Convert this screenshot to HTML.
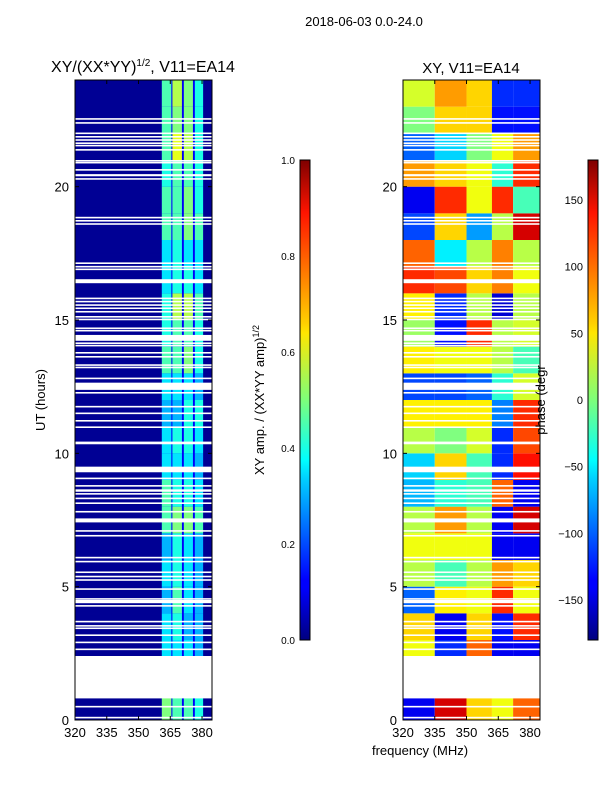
<!DOCTYPE html>
<html><head><meta charset="utf-8"><style>
body{margin:0;background:#fff;}
svg text{font-family:"Liberation Sans",sans-serif;fill:#000;}
</style></head><body>
<svg id="c" width="600" height="800" xmlns="http://www.w3.org/2000/svg">
<defs>
<linearGradient id="jet" x1="0" y1="1" x2="0" y2="0">
<stop offset="0" stop-color="#00007f"/><stop offset="0.11" stop-color="#0000ff"/><stop offset="0.125" stop-color="#0000ff"/><stop offset="0.34" stop-color="#00d4ff"/><stop offset="0.375" stop-color="#00ffff"/><stop offset="0.5" stop-color="#7dff7a"/><stop offset="0.64" stop-color="#ffe600"/><stop offset="0.66" stop-color="#ffd000"/><stop offset="0.89" stop-color="#ff1400"/><stop offset="1" stop-color="#7f0000"/>
</linearGradient>
</defs>
<text x="364" y="26" font-size="13" text-anchor="middle">2018-06-03 0.0-24.0</text>
<text x="143" y="72" font-size="16" text-anchor="middle">XY/(XX*YY)<tspan font-size="10" dy="-6">1/2</tspan><tspan dy="6">, V11=EA14</tspan></text>
<text x="471" y="73" font-size="15" text-anchor="middle">XY, V11=EA14</text>
<g id="left"></g>
<g id="right"></g>
<g id="axes"></g>
<text transform="translate(45,400) rotate(-90)" font-size="13" text-anchor="middle">UT (hours)</text>
<text x="420" y="755" font-size="13" text-anchor="middle">frequency (MHz)</text>
<rect x="300" y="160" width="10" height="480" fill="url(#jet)" stroke="#000" stroke-width="1"/>
<rect x="588" y="160" width="10" height="480" fill="url(#jet)" stroke="#000" stroke-width="1"/>
<text transform="translate(264,400) rotate(-90)" font-size="13" text-anchor="middle">XY amp. / (XX*YY amp)<tspan font-size="9" dy="-5">1/2</tspan></text>
<text transform="translate(545,400) rotate(-90)" font-size="13" text-anchor="middle">phase (degr</text>
</svg>
<script>
const hours=[0,1,2,3,4,5,6,7,8,9,10,11,12,13,14,15,16,17,18,19,20,21,22,23];
const ampBands=[[361,365.5],[366,370.5],[371.4,375.7],[376.6,380.5]];
const ampValues=[[0.5,0.45,0.45,0.4],[0.4,0.4,0.4,0.35],[0.35,0.35,0.35,0.3],[0.35,0.4,0.3,0.3],[0.3,0.45,0.35,0.3],[0.35,0.4,0.35,0.3],[0.3,0.4,0.35,0.3],[0.45,0.5,0.5,0.45],[0.45,0.4,0.4,0.35],[0.35,0.35,0.35,0.3],[0.35,0.4,0.4,0.35],[0.3,0.3,0.4,0.4],[0.35,0.35,0.35,0.3],[0.45,0.45,0.5,0.4],[0.4,0.45,0.45,0.4],[0.4,0.55,0.55,0.45],[0.35,0.4,0.4,0.35],[0.35,0.4,0.35,0.35],[0.45,0.45,0.5,0.45],[0.45,0.45,0.5,0.4],[0.4,0.45,0.45,0.4],[0.45,0.6,0.55,0.4],[0.45,0.5,0.5,0.4],[0.45,0.55,0.5,0.4]];
const ampBackground=0.02;
const ampGapValue=0.12;
const phaseEdges=[320,335,350,362,372,385];
const phaseValues=[[-140,150,60,40,100],[-140,150,60,40,100],[40,-120,100,-140,-140],[60,-140,60,-130,120],[-100,50,40,120,40],[20,-20,20,80,60],[40,40,40,-140,-140],[20,80,20,-140,150],[-70,-30,-20,100,-140],[-60,60,-20,-120,130],[20,0,30,-120,110],[50,50,50,-90,120],[-110,-110,-100,-30,30],[50,40,40,20,-20],[10,-130,120,20,30],[50,-120,20,-150,20],[120,110,60,90,40],[100,-50,20,90,20],[-110,60,-80,20,150],[-140,120,40,120,-20],[80,60,40,-30,120],[-100,-60,0,40,80],[0,60,60,-130,-130],[30,80,60,-120,-120]];
const flagLines=[22.54,22.39,22.0,21.87,21.75,21.63,21.54,21.38,20.97,20.9,20.63,20.29,18.84,18.72,18.6,17.13,17.0,16.9,15.81,15.69,15.56,15.44,15.31,15.12,15.02,14.69,14.6,14.13,14.04,13.77,13.62,13.31,13.22,12.81,12.27,11.75,11.5,11.22,10.98,9.06,8.78,8.48,8.31,8.13,7.81,7.09,6.91,5.94,5.54,5.38,5.25,4.54,4.28,3.69,3.53,3.44,3.18,2.91,2.65,0.5,0.09];
const flagBlocks=[[20.39,20.47],[16.38,16.53],[14.22,14.44],[12.38,12.65],[10.34,10.44],[9.29,9.5],[8.56,8.65],[7.41,7.56],[6.06,6.12],[4.88,4.94],[4.38,4.5],[0.81,2.4]];
const yTicks=[0,5,10,15,20];
const xTicks=[320,335,350,365,380];
const ampTicks=[0.0,0.2,0.4,0.6,0.8,1.0];
const phaseTicks=[-150,-100,-50,0,50,100,150];

const NS="http://www.w3.org/2000/svg";
const PT=80,PB=720,FMIN=320,FMAX=384.7,PW=137;
function yS(h){return PB-(h/24)*(PB-PT);}
function xS(x0,f){return x0+(f-FMIN)/(FMAX-FMIN)*PW;}
function cl(v){return Math.max(0,Math.min(1,v));}
function jet(t){const r=cl(1.5-Math.abs(4*t-3)),g=cl(1.5-Math.abs(4*t-2)),b=cl(1.5-Math.abs(4*t-1));return `rgb(${Math.round(r*255)},${Math.round(g*255)},${Math.round(b*255)})`;}
function R(p,x,y,w,h,fill,name){const e=document.createElementNS(NS,'rect');e.setAttribute('x',x);e.setAttribute('y',y);e.setAttribute('width',w);e.setAttribute('height',h);e.setAttribute('fill',fill);


p.appendChild(e);return e;}
function T(p,x,y,s,txt,anchor,name){const e=document.createElementNS(NS,'text');e.setAttribute('x',x);e.setAttribute('y',y);e.setAttribute('font-size',s);e.setAttribute('text-anchor',anchor);e.textContent=txt;


p.appendChild(e);}
function L(p,x1,y1,x2,y2,name){const e=document.createElementNS(NS,'line');e.setAttribute('x1',x1);e.setAttribute('y1',y1);e.setAttribute('x2',x2);e.setAttribute('y2',y2);e.setAttribute('stroke','#000');


p.appendChild(e);}

const left=document.getElementById('left'),right=document.getElementById('right'),axes=document.getElementById('axes');
const LX=75,RX=403;
R(left,LX,PT,PW,PB-PT,jet(ampBackground),'amp-background');
R(left,xS(LX,ampBands[0][0]),PT,xS(LX,ampBands[3][1])-xS(LX,ampBands[0][0]),PB-PT,jet(ampGapValue),'amp-band-gaps');
hours.forEach((h,i)=>{
  ampBands.forEach((b,j)=>{
    const x1=xS(LX,b[0]),x2=xS(LX,b[1]),y1=yS(h+1),y2=yS(h);
    R(left,x1,y1,x2-x1,y2-y1,jet(ampValues[i][j]),'amp-cell');
  });
  for(let j=0;j<phaseEdges.length-1;j++){
    const x1=xS(RX,phaseEdges[j]),x2=Math.min(xS(RX,phaseEdges[j+1]),RX+PW),y1=yS(h+1),y2=yS(h);
    R(right,x1,y1,x2-x1,y2-y1,jet((phaseValues[i][j]+180)/360),'phase-cell');
  }
});
[LX,RX].forEach(x0=>{
  flagLines.forEach(h=>R(x0===LX?left:right,x0,yS(h)-0.8,PW,1.6,'#fff','flagged-row'));
  flagBlocks.forEach(b=>R(x0===LX?left:right,x0,yS(b[1]),PW,yS(b[0])-yS(b[1]),'#fff','flagged-block'));
  const f=R(axes,x0,PT,PW,PB-PT,'none','panel-frame');f.setAttribute('stroke','#000');
  yTicks.forEach(t=>{const y=yS(t);L(axes,x0,y,x0+4,y,'y-tick');L(axes,x0+PW-4,y,x0+PW,y,'y-tick');T(axes,x0-6,y+5,13,String(t),'end','y-tick-label');});
  xTicks.forEach(t=>{const x=xS(x0,t);L(axes,x,PB,x,PB-4,'x-tick');L(axes,x,PT,x,PT+4,'x-tick');T(axes,x,PB+17,13,String(t),'middle','x-tick-label');});
});
ampTicks.forEach(t=>{const y=640-t*480;L(axes,306,y,310,y,'amp-colorbar-tick');T(axes,295,y+4,10,t.toFixed(1),'end','amp-colorbar-label');});
phaseTicks.forEach(t=>{const y=640-(t+180)/360*480;L(axes,594,y,598,y,'phase-colorbar-tick');T(axes,583,y+4,11,t<0?'\u2212'+(-t):String(t),'end','phase-colorbar-label');});
</script>
</body></html>
